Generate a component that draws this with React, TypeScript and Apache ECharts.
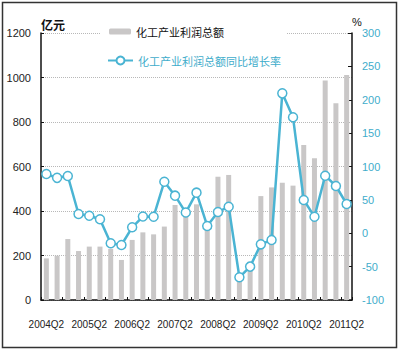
import React, { useEffect, useRef } from "react";
import * as echarts from "echarts";

const quarters: string[] = [
  "2004Q2", "2004Q3", "2004Q4",
  "2005Q1", "2005Q2", "2005Q3", "2005Q4",
  "2006Q1", "2006Q2", "2006Q3", "2006Q4",
  "2007Q1", "2007Q2", "2007Q3", "2007Q4",
  "2008Q1", "2008Q2", "2008Q3", "2008Q4",
  "2009Q1", "2009Q2", "2009Q3", "2009Q4",
  "2010Q1", "2010Q2", "2010Q3", "2010Q4",
  "2011Q1", "2011Q2",
];

// 化工产业利润总额 (亿元)
const profitTotal: number[] = [
  187, 199, 274,
  220, 240, 240, 230,
  180, 270, 304, 295,
  330, 427, 375, 430,
  323, 554, 562, 90,
  172, 467, 506, 527,
  514, 697, 637, 986,
  884, 1011,
];

// 化工产业利润总额同比增长率 (%)
const profitGrowth: number[] = [
  88.8, 83, 85.8,
  28.8, 26.3, 20.9, -15,
  -17.6, 8.9, 25, 24.8,
  77.2, 56.3, 31, 60.8,
  10.9, 31.8, 39.8, -66,
  -50, -16.6, -10, 209.6,
  173.7, 49.8, 24.8, 86.2,
  70.8, 43.8,
];

const barName = "化工产业利润总额";
const lineName = "化工产业利润总额同比增长率";

const CYAN_LINE = "#4ab4d3";
const CYAN_TEXT = "#3fadcb";
const NUMFONT = '"Liberation Sans", Arial, sans-serif';
const CJK = '"Noto Sans CJK SC", sans-serif';

export default function App() {
  const ref = useRef<HTMLDivElement>(null);

  useEffect(() => {
    document.body.style.margin = "0";
    if (!ref.current) return;
    const chart = echarts.init(ref.current, undefined, { renderer: "svg" });
    chart.setOption({
      animation: false,
      backgroundColor: "#ffffff",
      grid: { left: 41, right: 48, top: 33, bottom: 51, containLabel: false },
      graphic: [
        {
          type: "rect",
          z: 1,
          shape: { x: 100, y: 18, width: 187, height: 54 },
          style: { fill: "#ffffff" },
        },
        {
          type: "rect",
          z: 10,
          shape: { x: 2.5, y: 2.5, width: 394, height: 345 },
          style: { fill: "none", stroke: "#333333", lineWidth: 1.5 },
        },
      ],
      legend: [
        {
          data: [barName],
          left: 109,
          top: 26,
          padding: 0,
          itemWidth: 22,
          itemHeight: 6,
          z: 5,
          textStyle: { fontFamily: CJK, fontSize: 11, color: "#111111" },
        },
        {
          data: [lineName],
          left: 107,
          top: 55,
          padding: 0,
          itemWidth: 25,
          itemHeight: 10,
          z: 5,
          textStyle: { fontFamily: CJK, fontSize: 11, color: CYAN_TEXT },
        },
      ],
      xAxis: {
        type: "category",
        data: quarters,
        boundaryGap: true,
        axisLine: { show: true, lineStyle: { color: "#111111", width: 1.5 } },
        axisTick: { show: true, inside: true, interval: 1, length: 3, lineStyle: { color: "#111111" } },
        axisLabel: {
          interval: 3,
          margin: 19,
          fontSize: 10,
          fontFamily: NUMFONT,
          color: "#222222",
          showMinLabel: true,
          showMaxLabel: true,
          hideOverlap: false,
        },
        splitLine: { show: false },
      },
      yAxis: [
        {
          type: "value",
          min: 0,
          max: 1200,
          interval: 200,
          name: "亿元",
          nameLocation: "end",
          nameGap: 3,
          nameTextStyle: { fontFamily: CJK, fontSize: 12, color: "#111111", align: "left", fontWeight: "bold" },
          axisLine: { show: true, lineStyle: { color: "#111111", width: 1.5 } },
          axisTick: { show: true, inside: true, length: 3, lineStyle: { color: "#111111" } },
          axisLabel: {
            margin: 10,
            fontSize: 11,
            fontFamily: NUMFONT,
            color: "#222222",
            formatter: (v: number) => String(v),
          },
          splitLine: { show: true, lineStyle: { type: "dotted", color: "#b8b8b8", width: 1 } },
        },
        {
          type: "value",
          min: -100,
          max: 300,
          interval: 50,
          name: "%",
          nameLocation: "end",
          nameGap: 4,
          nameTextStyle: { fontFamily: NUMFONT, fontSize: 11, color: "#111111", align: "left" },
          axisLine: { show: true, lineStyle: { color: "#111111", width: 1.5 } },
          axisTick: { show: true, inside: true, length: 4, lineStyle: { color: "#111111" } },
          axisLabel: {
            margin: 10,
            fontSize: 11,
            fontFamily: NUMFONT,
            color: CYAN_TEXT,
            formatter: (v: number) => String(v),
          },
          splitLine: { show: false },
        },
      ],
      series: [
        {
          name: barName,
          type: "bar",
          yAxisIndex: 0,
          data: profitTotal,
          barWidth: 5,
          itemStyle: { color: "#c9c7c7" },
          z: 2,
        },
        {
          name: lineName,
          type: "line",
          yAxisIndex: 1,
          data: profitGrowth,
          symbol: "circle",
          symbolSize: 9,
          showAllSymbol: true,
          lineStyle: { color: CYAN_LINE, width: 2.5 },
          itemStyle: { color: "#ffffff", borderColor: CYAN_LINE, borderWidth: 1.5 },
          z: 3,
        },
      ],
    });
    return () => chart.dispose();
  }, []);

  return (
    <div
      ref={ref}
      style={{ position: "absolute", left: 0, top: 0, width: 400, height: 351 }}
    />
  );
}
